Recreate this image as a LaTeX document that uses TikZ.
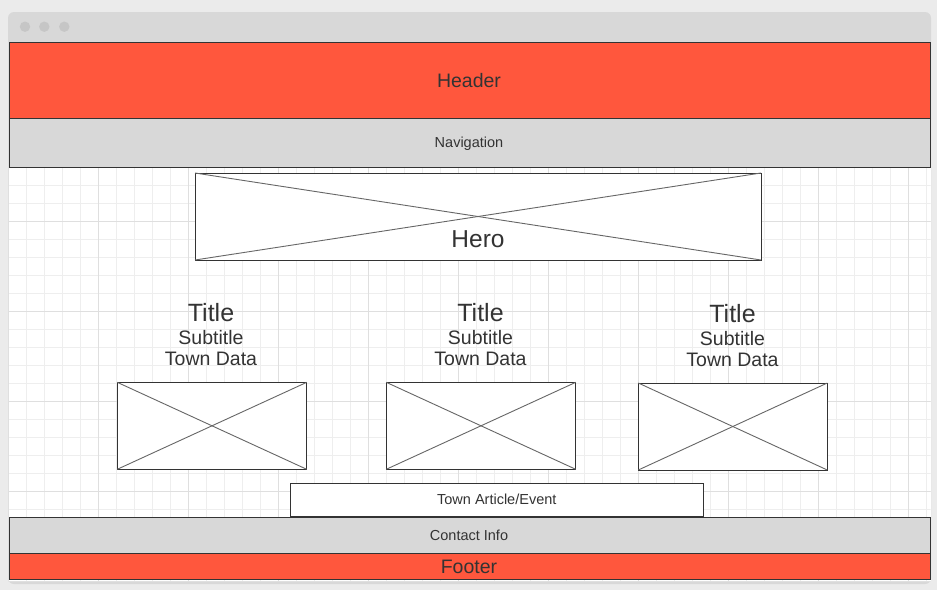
\documentclass[tikz,border=0pt]{standalone}
\usepackage{fontspec}
\setmainfont{Liberation Sans}
\definecolor{outerbg}{HTML}{EBEBEB}
\definecolor{chrome}{HTML}{D8D8D8}
\definecolor{dotc}{HTML}{C6C6C6}
\definecolor{hdr}{HTML}{FF573D}
\definecolor{navc}{HTML}{D8D8D8}
\definecolor{gridminor}{HTML}{EEEEEE}
\definecolor{gridmajor}{HTML}{DFDFDF}
\definecolor{ink}{HTML}{333333}
\definecolor{diagc}{HTML}{666666}
\tikzset{
  band/.style={draw=ink, line width=1pt, rectangle, inner sep=0pt, outer sep=0pt},
  imgbox/.style={draw=ink, fill=white, line width=1pt, rectangle, inner sep=0pt, outer sep=0pt},
  diag/.style={draw=diagc, line width=0.9pt},
  lbl/.style={text=ink, inner sep=0pt, anchor=base},
  minorline/.style={draw=gridminor, line width=1pt},
  majorline/.style={draw=gridmajor, line width=1pt},
  dotstyle/.style={fill=dotc},
}
\begin{document}
\begin{tikzpicture}[x=1pt,y=-1pt]
\useasboundingbox (0,0) rectangle (937,590);
\fill[outerbg] (0,0) rectangle (937,590);
% window
\fill[chrome, rounded corners=6pt] (8,12) rectangle (931,584);
\fill[dotstyle] (25,26.7) circle[radius=5.2pt];
\fill[dotstyle] (44.3,26.7) circle[radius=5.2pt];
\fill[dotstyle] (64.3,26.7) circle[radius=5.2pt];
% grid canvas
\fill[white] (8.5,42) rectangle (930.5,582);
\begin{scope}
\clip (8.5,42) rectangle (930.5,582);
\foreach \i in {0,...,51} {\draw[minorline] ({8.7+18*\i},42) -- ({8.7+18*\i},582);}
\foreach \j in {2,...,32} {\draw[minorline] (8.5,{5.3+18*\j}) -- (930.5,{5.3+18*\j});}
\foreach \i in {0,...,10} {\draw[majorline] ({8.7+90*\i},42) -- ({8.7+90*\i},582);}
\foreach \j in {0,...,6} {\draw[majorline] (8.5,{41.3+90*\j}) -- (930.5,{41.3+90*\j});}
\end{scope}
% header and navigation
\node[band, fill=hdr, minimum width=921pt, minimum height=76pt] (header) at (469.5,80) {};
\node[band, fill=navc, minimum width=921pt, minimum height=49pt] (nav) at (469.5,142.5) {};
\node[lbl, font=\fontsize{19.5}{22}\selectfont] (headert) at (469,87.3) {Header};
\node[lbl, font=\fontsize{14.5}{17}\selectfont] (navt) at (469,147.3) {Navigation};
% hero
\node[imgbox, minimum width=566pt, minimum height=87pt] (hero) at (478,216.5) {};
\draw[diag] (hero.north west) -- (hero.south east);
\draw[diag] (hero.south west) -- (hero.north east);
\node[lbl, font=\fontsize{24.5}{28}\selectfont] (herot) at (478,247.3) {Hero};
% columns
\node[lbl, font=\fontsize{25}{28}\selectfont] (title1) at (211,321.3) {Title};
\node[lbl, font=\fontsize{19.5}{22}\selectfont] (sub1) at (211,344) {Subtitle};
\node[lbl, font=\fontsize{19.5}{22}\selectfont] (data1) at (211,365) {Town Data};
\node[lbl, font=\fontsize{25}{28}\selectfont] (title2) at (480.5,321.3) {Title};
\node[lbl, font=\fontsize{19.5}{22}\selectfont] (sub2) at (480.5,344) {Subtitle};
\node[lbl, font=\fontsize{19.5}{22}\selectfont] (data2) at (480.5,365) {Town Data};
\node[lbl, font=\fontsize{25}{28}\selectfont] (title3) at (732.5,322.3) {Title};
\node[lbl, font=\fontsize{19.5}{22}\selectfont] (sub3) at (732.5,345) {Subtitle};
\node[lbl, font=\fontsize{19.5}{22}\selectfont] (data3) at (732.5,366) {Town Data};
\node[imgbox, minimum width=189.5pt, minimum height=87pt] (img1) at (212,425.8) {};
\node[imgbox, minimum width=189.5pt, minimum height=87pt] (img2) at (481,425.8) {};
\node[imgbox, minimum width=189pt, minimum height=87pt] (img3) at (732.8,426.5) {};
\foreach \b in {img1,img2,img3} {
  \draw[diag] (\b.north west) -- (\b.south east);
  \draw[diag] (\b.south west) -- (\b.north east);
}
% article
\node[imgbox, minimum width=413pt, minimum height=33pt] (article) at (496.8,500) {};
\node[lbl, font=\fontsize{14.5}{17}\selectfont] (articlet) at (496.8,504) {Town Article/Event};
% contact and footer
\node[band, fill=navc, minimum width=921pt, minimum height=36pt] (contact) at (469.5,535.3) {};
\node[band, fill=hdr, minimum width=921pt, minimum height=26pt] (footer) at (469.5,566.3) {};
\node[lbl, font=\fontsize{14.5}{17}\selectfont] (contactt) at (469,540) {Contact Info};
\node[lbl, font=\fontsize{19.5}{22}\selectfont] (footert) at (469,573.3) {Footer};
\end{tikzpicture}
\end{document}
